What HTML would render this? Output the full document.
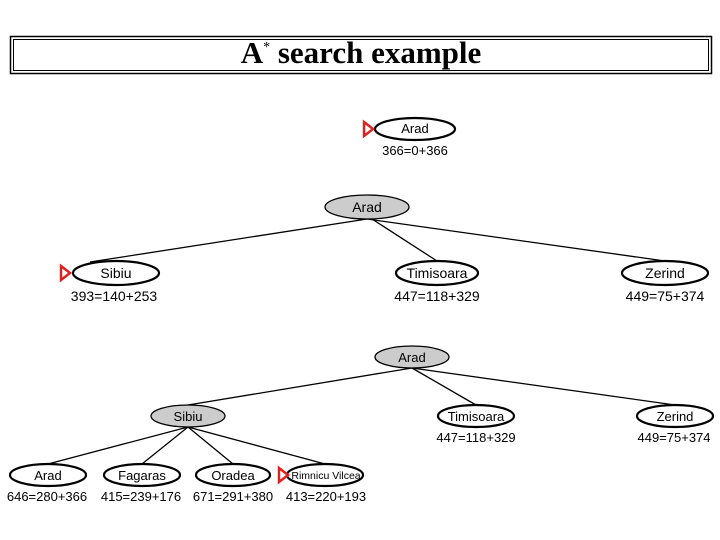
<!DOCTYPE html>
<html><head><style>
html,body{margin:0;padding:0;background:#fff;width:720px;height:540px;overflow:hidden}
svg text{font-family:"Liberation Sans",sans-serif;fill:#000}
</style></head><body>
<svg width="720" height="540" viewBox="0 0 720 540" xmlns="http://www.w3.org/2000/svg">
<rect x="10.5" y="36.5" width="701" height="37" fill="none" stroke="#000" stroke-width="1.5"/>
<rect x="13.5" y="39.5" width="695" height="31" fill="none" stroke="#000" stroke-width="1"/>
<text x="361" y="63" text-anchor="middle" style="font-family:'Liberation Serif',serif;font-weight:bold;font-size:31px">A<tspan font-size="14" dy="-12" font-weight="normal">*</tspan><tspan dy="12"> search example</tspan></text>

<g stroke="#000" stroke-width="1.3" fill="none">
<line x1="367" y1="219" x2="90" y2="262"/>
<line x1="372" y1="219" x2="437" y2="261"/>
<line x1="367" y1="219" x2="665" y2="261"/>
<line x1="412" y1="368" x2="188" y2="405"/>
<line x1="412" y1="368" x2="476" y2="405"/>
<line x1="412" y1="368" x2="675" y2="405"/>
<line x1="188" y1="427" x2="48" y2="464"/>
<line x1="188" y1="427" x2="142" y2="464"/>
<line x1="188" y1="427" x2="233" y2="464"/>
<line x1="188" y1="427" x2="325" y2="464"/>
</g>

<g stroke="#000" stroke-width="2.2">
<ellipse cx="415" cy="129" rx="40" ry="11" fill="#fff"/>
<ellipse cx="367" cy="207" rx="42" ry="12" fill="#ccc" stroke-width="1.3"/>
<ellipse cx="116" cy="273" rx="43" ry="12" fill="#fff"/>
<ellipse cx="437" cy="273" rx="41" ry="12" fill="#fff"/>
<ellipse cx="665" cy="273" rx="43" ry="12" fill="#fff"/>
<ellipse cx="412" cy="357" rx="37" ry="11" fill="#ccc" stroke-width="1.3"/>
<ellipse cx="188" cy="416" rx="37" ry="11" fill="#ccc" stroke-width="1.3"/>
<ellipse cx="476" cy="416" rx="38" ry="11" fill="#fff"/>
<ellipse cx="675" cy="416" rx="38" ry="11" fill="#fff"/>
<ellipse cx="48" cy="475" rx="38" ry="11" fill="#fff"/>
<ellipse cx="142" cy="475" rx="38" ry="11" fill="#fff"/>
<ellipse cx="233" cy="475" rx="37" ry="11" fill="#fff"/>
<ellipse cx="325" cy="475" rx="38" ry="11" fill="#fff"/>
</g>

<g fill="none" stroke="#d22" stroke-width="2.5">
<polygon points="364,122 373,129 364,136"/>
<polygon points="61,266 70,273 61,280"/>
<polygon points="279,468 288,475 279,482"/>
</g>

<g font-size="13" text-anchor="middle">
<text x="415" y="133">Arad</text>
<text x="415" y="155">366=0+366</text>
<text x="367" y="212" font-size="14">Arad</text>
<text x="116" y="278" font-size="14">Sibiu</text>
<text x="437" y="278" font-size="14">Timisoara</text>
<text x="665" y="278" font-size="14">Zerind</text>
<text x="114" y="301" font-size="14">393=140+253</text>
<text x="437" y="301" font-size="14">447=118+329</text>
<text x="665" y="301" font-size="14">449=75+374</text>
<text x="412" y="362">Arad</text>
<text x="188" y="421">Sibiu</text>
<text x="476" y="421">Timisoara</text>
<text x="675" y="421">Zerind</text>
<text x="476" y="442">447=118+329</text>
<text x="674" y="442">449=75+374</text>
<text x="48" y="480">Arad</text>
<text x="142" y="480">Fagaras</text>
<text x="233" y="480">Oradea</text>
<text x="326" y="479" font-size="10.5">Rimnicu Vilcea</text>
<text x="47" y="501">646=280+366</text>
<text x="141" y="501">415=239+176</text>
<text x="233" y="501">671=291+380</text>
</g>
<svg x="0" y="0" width="366" height="540"><text x="326" y="501" font-size="13" text-anchor="middle">413=220+193</text></svg>
</svg>
</body></html>
